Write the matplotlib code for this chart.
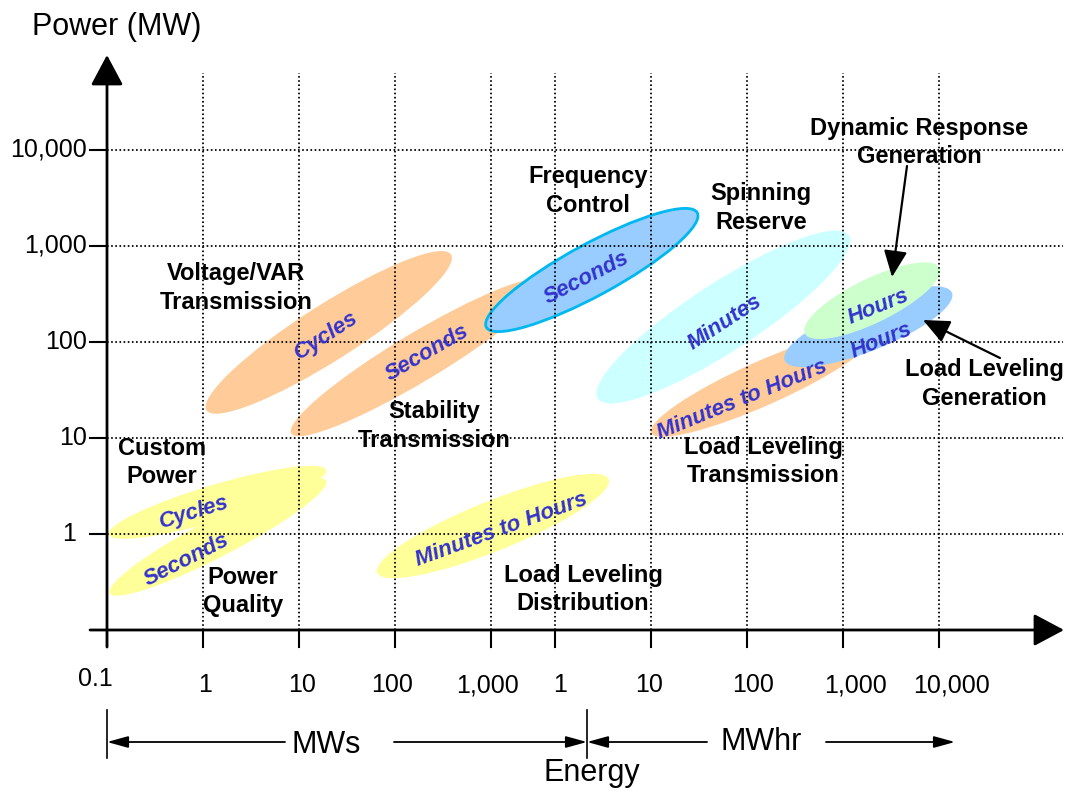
import matplotlib
matplotlib.use("Agg")
import matplotlib.pyplot as plt
from matplotlib.patches import Ellipse
import numpy as np

plt.rcParams['font.family'] = ['Liberation Sans', 'DejaVu Sans']

# ---------------- data ----------------
power_ticks = [1, 10, 100, 1000, 10000]
power_tick_labels = ["1", "10", "100", "1,000", "10,000"]
mws_ticks = [0.1, 1, 10, 100, 1000]
mws_tick_labels = ["0.1", "1", "10", "100", "1,000"]
mwhr_ticks = [1, 10, 100, 1000, 10000]
mwhr_tick_labels = ["1", "10", "100", "1,000", "10,000"]

# regions: centre on the energy axis (decades from 0.1 MWs), centre power (log10 MW),
# length / thickness in decades, tilt in degrees
ell_energy = [2.31, 3.24, 5.05, 6.42, 6.83, 7.93, 7.97, 1.15, 1.156, 4.02]
ell_logpower = [2.10, 1.84, 2.75, 2.26, 1.57, 2.16, 2.43, 0.33, -0.031, 0.083]
ell_length = [3.02, 3.08, 2.50, 3.12, 2.54, 1.88, 1.56, 2.36, 2.54, 2.60]
ell_thick = [0.58, 0.50, 0.54, 0.71, 0.46, 0.50, 0.46, 0.375, 0.40, 0.52]
ell_angle = [32.5, 31, 28.5, 33, 24, 22, 26, 16.5, 27.5, 22]
ell_face = ["#FFCC99", "#FFCC99", "#99CCFF", "#CCFFFF", "#FFCC99",
            "#99CCFF", "#CCFFCC", "#FFFF99", "#FFFF99", "#FFFF99"]
ell_edge = [None, None, "#00B8F0", None, None, None, None, None, None, None]
ell_label = ["Cycles", "Seconds", "Seconds", "Minutes", "Minutes to Hours",
             "Hours", "Hours", "Cycles", "Seconds", "Minutes to Hours"]
ell_label_pos = [(2.281, 2.0625), (3.333, 1.885), (5.0, 2.667), (6.4375, 2.208),
                 (6.615, 1.396), (8.0625, 2.010), (8.031, 2.365), (0.906, 0.229),
                 (0.833, -0.271), (4.104, 0.0417)]
ell_label_rot = [33, 30, 27, 33, 22, 22, 22, 17, 27, 20]

app_names = ["Voltage/VAR\nTransmission", "Stability\nTransmission", "Frequency\nControl",
             "Spinning\nReserve", "Dynamic Response\nGeneration", "Load Leveling\nGeneration",
             "Load Leveling\nTransmission", "Custom\nPower", "Power\nQuality",
             "Load Leveling\nDistribution"]
app_pos = [(1.344, 2.5625), (3.406, 1.125), (5.010, 3.573), (6.8125, 3.396),
           (8.458, 4.083), (9.135, 1.5625), (6.833, 0.760), (0.573, 0.740),
           (1.417, -0.594), (4.958, -0.583)]

MWHR_OFFSET = 4 + 2 / 3  # position of 1 MWhr on the energy axis (decades)


def px(x, y):
    """layout helper: pixel position -> data position"""
    return ((x - 107) / 96.0, (630 - y) / 96.0 - 1)


fig = plt.figure(figsize=(10.65, 7.91), dpi=100)
ax = fig.add_axes([0, 0, 1, 1])
ax.set_xlim(px(0, 0)[0], px(1065, 0)[0])
ax.set_ylim(px(0, 791)[1], px(0, 0)[1])
ax.axis('off')

# ellipses
for i in range(len(ell_energy)):
    e = Ellipse((ell_energy[i], ell_logpower[i]), ell_length[i], ell_thick[i],
                angle=ell_angle[i], facecolor=ell_face[i],
                edgecolor=ell_edge[i] if ell_edge[i] else 'none',
                lw=2 if ell_edge[i] else 0, zorder=1 + i * 0.01)
    ax.add_patch(e)

# positions on axes
e_pos = [np.log10(v) + 1 for v in mws_ticks] + [np.log10(v) + MWHR_OFFSET for v in mwhr_ticks]
e_lab = mws_tick_labels + mwhr_tick_labels
p_pos = [np.log10(v) for v in power_ticks]

top = px(0, 73)[1]
right = px(1063, 0)[0]
x0, y0 = 0.0, -1.0
grid_kw = dict(color='black', lw=1.3, linestyle=(0, (0.9, 1.4)), zorder=2)
for xp in e_pos[1:]:
    ax.plot([xp, xp], [y0, top], **grid_kw)
for yp in p_pos:
    ax.plot([x0, right], [yp, yp], **grid_kw)

# axes with arrows
ax.annotate('', xy=px(1064, 630), xytext=px(90, 630),
            arrowprops=dict(arrowstyle='-|>,head_length=0.75,head_width=0.4',
                            lw=2, color='black', mutation_scale=25, shrinkA=0, shrinkB=0),
            zorder=4)
ax.annotate('', xy=px(107, 55), xytext=px(107, 647),
            arrowprops=dict(arrowstyle='-|>,head_length=0.75,head_width=0.4',
                            lw=2, color='black', mutation_scale=25, shrinkA=0, shrinkB=0),
            zorder=4)

# ticks
tick_len = 17 / 96.0
for xp in e_pos:
    ax.plot([xp, xp], [y0, y0 - tick_len], color='black', lw=1.5, zorder=4)
for yp in p_pos:
    ax.plot([x0 - tick_len, x0], [yp, yp], color='black', lw=1.5, zorder=4)

# tick labels
x_nudge = [-12, 2, 3, -3, -4, 5, -2, 6, 12, 12]
for k, (xp, lab, nd) in enumerate(zip(e_pos, e_lab, x_nudge)):
    yy = px(0, 679 if k == 0 else 685)[1]
    ax.text(xp + nd / 96.0, yy, lab, ha='center', va='center', fontsize=18, zorder=5)
for yp, lab in zip(p_pos, power_tick_labels):
    if lab == "1":
        ax.text(px(69, 0)[0], yp, lab, ha='center', va='center', fontsize=18, zorder=5)
    else:
        ax.text(px(87, 0)[0], yp, lab, ha='right', va='center', fontsize=18, zorder=5)

ax.text(*px(32, 27), "Power (MW)", ha='left', va='center', fontsize=22)

# bottom brackets
bx1, bx2 = 107, 587
for bx in (bx1, bx2):
    ax.plot(*zip(px(bx, 710), px(bx, 758)), color='black', lw=1.2)
arrow_kw = dict(arrowstyle='-|>,head_length=0.8,head_width=0.22', lw=1.3, color='black',
                mutation_scale=16, shrinkA=0, shrinkB=0)
ax.annotate('', xy=px(bx1, 742), xytext=px(285, 742), arrowprops=arrow_kw)
ax.annotate('', xy=px(bx2, 742), xytext=px(394, 742), arrowprops=arrow_kw)
ax.annotate('', xy=px(bx2, 742), xytext=px(707, 742), arrowprops=arrow_kw)
ax.annotate('', xy=px(955, 742), xytext=px(826, 742), arrowprops=arrow_kw)
ax.text(*px(326, 745), "MWs", ha='center', va='center', fontsize=22)
ax.text(*px(761, 742), "MWhr", ha='center', va='center', fontsize=22)
ax.text(*px(592, 773), "Energy", ha='center', va='center', fontsize=22)

# region labels
for (xx, yy), lab, rot in zip(ell_label_pos, ell_label, ell_label_rot):
    ax.text(xx, yy, lab, ha='center', va='center', rotation=rot, rotation_mode='anchor',
            fontsize=16, fontweight='bold', fontstyle='italic', color='#3333CC', zorder=6)

for (xx, yy), lab in zip(app_pos, app_names):
    ax.text(xx, yy, lab, ha='center', va='center', fontsize=17, fontweight='bold',
            linespacing=1.28, zorder=6)

# pointer arrows
pkw = dict(arrowstyle='-|>,head_length=0.9,head_width=0.4', lw=1.6, color='black',
           mutation_scale=18, shrinkA=0, shrinkB=0)
ax.annotate('', xy=px(892, 277), xytext=px(907, 166), arrowprops=pkw, zorder=7)
ax.annotate('', xy=px(923, 320), xytext=px(1000, 358), arrowprops=pkw, zorder=7)

fig.savefig("out.png", dpi=100)
